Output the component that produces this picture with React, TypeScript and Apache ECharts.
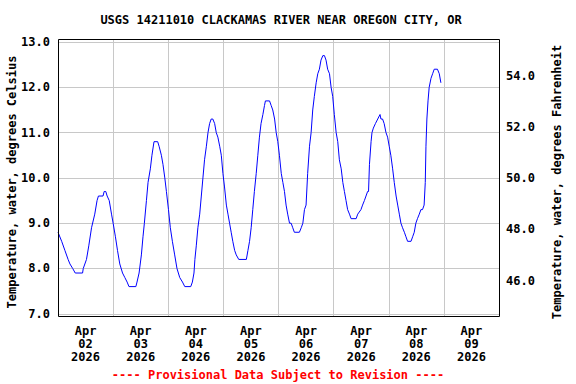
import React, { useEffect, useRef } from "react";
import * as echarts from "echarts";

// Hours since Apr 02 2026 00:00, water temperature in degrees Celsius
const apr02: [number, number][] = [
  [0, 8.8], [1.6, 8.6], [3.0, 8.4], [4.4, 8.2], [5.2, 8.1], [6.4, 8.0], [7.5, 7.9], [10.7, 7.9],
  [11.0, 8.0], [12.4, 8.2], [13.4, 8.5], [14.6, 8.9], [16.0, 9.2], [17.0, 9.5], [17.6, 9.6],
  [19.6, 9.6], [20.1, 9.7], [20.8, 9.7], [21.4, 9.6], [22.3, 9.5], [23.3, 9.2],
];
const apr03: [number, number][] = [
  [24.0, 9.0], [25.0, 8.7], [25.9, 8.4], [26.9, 8.1], [28.1, 7.9], [29.1, 7.8], [30.1, 7.7],
  [30.9, 7.6], [33.9, 7.6], [34.4, 7.7], [35.3, 7.9], [36.3, 8.3], [37.0, 8.7], [37.6, 9.0],
  [38.5, 9.5], [39.2, 9.9], [40.2, 10.2], [40.9, 10.5], [41.8, 10.8], [43.4, 10.8], [44.0, 10.7],
  [45.0, 10.5], [45.7, 10.3], [46.5, 10.0], [47.2, 9.7],
];
const apr04: [number, number][] = [
  [48.1, 9.3], [48.9, 8.9], [49.8, 8.6], [50.8, 8.3], [51.8, 8.0], [53.0, 7.8], [54.2, 7.7],
  [55.2, 7.6], [57.8, 7.6], [58.5, 7.7], [59.2, 7.9], [59.6, 8.2], [60.2, 8.5], [60.9, 8.9],
  [61.7, 9.2], [62.4, 9.6], [63.1, 10.0], [63.8, 10.4], [64.6, 10.7], [65.3, 11.0], [66.0, 11.2],
  [66.7, 11.3], [67.4, 11.3], [68.2, 11.2], [68.9, 11.0], [69.6, 10.9], [70.4, 10.7], [71.1, 10.5],
  [71.8, 10.1],
];
const apr05: [number, number][] = [
  [72.5, 9.8], [73.3, 9.4], [74.0, 9.2], [74.7, 9.0], [75.4, 8.8], [76.1, 8.6], [76.9, 8.4],
  [77.6, 8.3], [78.7, 8.2], [82.0, 8.2], [82.7, 8.4], [83.4, 8.6], [84.1, 8.9], [84.8, 9.3],
  [85.5, 9.7], [86.3, 10.1], [87.0, 10.5], [87.7, 10.9], [88.4, 11.2], [89.2, 11.4], [89.9, 11.6],
  [90.3, 11.7], [92.1, 11.7], [92.8, 11.6], [93.5, 11.5], [94.3, 11.3], [95.0, 11.0], [95.7, 10.8],
];
const apr06: [number, number][] = [
  [96.4, 10.5], [97.2, 10.1], [97.9, 9.9], [98.6, 9.7], [99.3, 9.4], [100.0, 9.2], [100.8, 9.0],
  [101.5, 9.0], [102.2, 8.9], [102.9, 8.8], [105.1, 8.8], [105.9, 8.9], [106.6, 9.0], [107.3, 9.3],
  [108.0, 9.4], [108.7, 10.1], [109.5, 10.7], [110.2, 11.0], [110.9, 11.5], [111.6, 11.8],
  [112.4, 12.1], [113.1, 12.3], [113.8, 12.4], [114.5, 12.6], [115.3, 12.7], [116.0, 12.7],
  [116.7, 12.6], [117.4, 12.4], [118.2, 12.3], [118.9, 12.0], [119.6, 11.8],
];
const apr07: [number, number][] = [
  [120.3, 11.4], [121.1, 11.0], [121.8, 10.8], [122.5, 10.4], [123.3, 10.2], [124.0, 9.9],
  [124.7, 9.7], [125.4, 9.5], [126.1, 9.3], [126.9, 9.2], [127.6, 9.1], [129.8, 9.1], [130.5, 9.2],
  [131.9, 9.3], [132.6, 9.4], [133.4, 9.5], [134.1, 9.6], [134.8, 9.7], [135.2, 9.7], [135.6, 10.3],
  [136.3, 10.8], [136.7, 11.0], [137.3, 11.1], [138.2, 11.2], [139.2, 11.3], [140.2, 11.4],
  [140.6, 11.3], [141.3, 11.3], [142.0, 11.2], [142.8, 11.0], [143.5, 10.9],
];
const apr08: [number, number][] = [
  [144.2, 10.7], [144.9, 10.5], [145.7, 10.2], [146.4, 9.9], [147.2, 9.6], [147.9, 9.4],
  [148.6, 9.2], [149.3, 9.0], [150.0, 8.9], [150.8, 8.8], [151.5, 8.7], [152.2, 8.6], [153.7, 8.6],
  [154.4, 8.7], [155.1, 8.8], [155.8, 9.0], [156.5, 9.1], [157.3, 9.2], [158.0, 9.3], [158.7, 9.3],
  [159.4, 9.4], [159.9, 9.9], [160.2, 10.7], [160.6, 11.3], [161.1, 11.7], [161.6, 12.0],
  [162.4, 12.2], [163.1, 12.3], [163.8, 12.4], [165.2, 12.4], [166.0, 12.3], [166.7, 12.1],
];

const dayLabels = [
  "Apr\n02\n2026", "Apr\n03\n2026", "Apr\n04\n2026", "Apr\n05\n2026",
  "Apr\n06\n2026", "Apr\n07\n2026", "Apr\n08\n2026", "Apr\n09\n2026",
];

const titleText = "USGS 14211010 CLACKAMAS RIVER NEAR OREGON CITY, OR";
const footerText = "---- Provisional Data Subject to Revision ----";
const leftAxisName = "Temperature, water, degrees Celsius";
const rightAxisName = "Temperature, water, degrees Fahrenheit";

const FONT = "'DejaVu Sans Mono', monospace";

export default function App() {
  const ref = useRef<HTMLDivElement>(null);
  useEffect(() => {
    if (!ref.current) return;
    document.body.style.margin = "0";
    const chart = echarts.init(ref.current, null, { renderer: "svg" });
    const data = [...apr02, ...apr03, ...apr04, ...apr05, ...apr06, ...apr07, ...apr08];
    const textBase = { fontFamily: FONT, fontWeight: "bold" as const, fontSize: 12, color: "#000" };
    const gridLine = { show: true, showMinLine: false, showMaxLine: false, lineStyle: { color: "#c8c8c8", width: 1 } };
    chart.setOption({
      animation: false,
      backgroundColor: "#fff",
      grid: {
        left: 58,
        right: 77,
        top: 39,
        bottom: 68,
        show: false,
      },
      xAxis: [
        {
          type: "value",
          min: 0,
          max: 192,
          interval: 24,
          axisLine: { show: false },
          axisTick: { show: false },
          axisLabel: { show: false },
          splitLine: gridLine,
        },
        {
          type: "value",
          min: 0,
          max: 192,
          interval: 12,
          position: "bottom",
          axisLine: { show: false },
          axisTick: { show: false },
          splitLine: { show: false },
          axisLabel: {
            ...textBase,
            margin: 8,
            lineHeight: 13,
            showMinLabel: false,
            showMaxLabel: false,
            formatter: (v: number) => (v % 24 === 12 ? dayLabels[(v - 12) / 24] : ""),
          },
        },
      ],
      yAxis: [
        {
          type: "value",
          position: "left",
          min: 6.951,
          max: 13.067,
          splitNumber: 6,
          minInterval: 1,
          maxInterval: 1,
          axisLine: { show: false },
          axisTick: { show: false },
          axisLabel: {
            ...textBase,
            margin: 8,
            showMinLabel: false,
            showMaxLabel: false,
            formatter: (v: number) => v.toFixed(1),
          },
          splitLine: gridLine,
        },
        {
          type: "value",
          position: "right",
          min: 44.622,
          max: 55.432,
          splitNumber: 5,
          minInterval: 2,
          maxInterval: 2,
          axisLine: { show: false },
          axisTick: { show: false },
          axisLabel: {
            ...textBase,
            margin: 7,
            showMinLabel: false,
            showMaxLabel: false,
            formatter: (v: number) => v.toFixed(1),
          },
          splitLine: { show: false },
        },
      ],
      series: [
        {
          type: "line",
          xAxisIndex: 0,
          yAxisIndex: 0,
          data,
          showSymbol: false,
          symbol: "none",
          lineStyle: { color: "#0000ff", width: 1 },
          itemStyle: { color: "#0000ff" },
        },
      ],
      graphic: [
        {
          type: "rect",
          z: 100,
          silent: true,
          shape: { x: 58.5, y: 39.5, width: 441, height: 277 },
          style: { fill: "none", stroke: "#000", lineWidth: 1 },
        },
        {
          type: "text",
          x: 281,
          y: 20,
          style: { text: titleText, font: `bold 12px ${FONT}`, fill: "#000", align: "center", verticalAlign: "middle" },
        },
        {
          type: "text",
          x: 278,
          y: 375,
          style: { text: footerText, font: `bold 12px ${FONT}`, fill: "#ff0000", align: "center", verticalAlign: "middle" },
        },
        {
          type: "text",
          x: 12,
          y: 182,
          rotation: Math.PI / 2,
          style: { text: leftAxisName, font: `bold 12px ${FONT}`, fill: "#000", align: "center", verticalAlign: "middle" },
        },
        {
          type: "text",
          x: 557,
          y: 182,
          rotation: Math.PI / 2,
          style: { text: rightAxisName, font: `bold 12px ${FONT}`, fill: "#000", align: "center", verticalAlign: "middle" },
        },
      ],
    });
    return () => chart.dispose();
  }, []);
  return <div ref={ref} style={{ width: 576, height: 384 }} />;
}
